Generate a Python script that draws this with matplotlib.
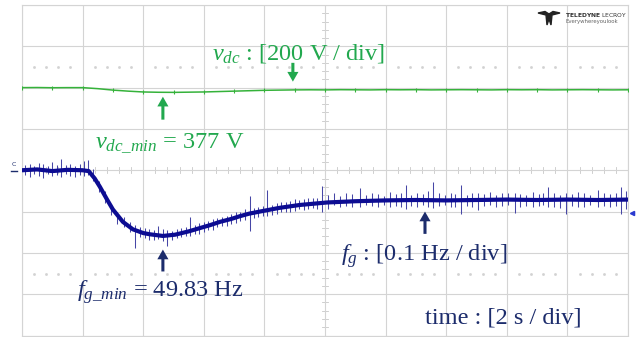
import matplotlib
matplotlib.use("Agg")
import matplotlib.pyplot as plt
from matplotlib.patches import Polygon
import numpy as np

plt.rcParams['font.family'] = ['Liberation Serif', 'DejaVu Serif']
plt.rcParams['mathtext.fontset'] = 'custom'
plt.rcParams['mathtext.rm'] = 'Liberation Serif'
plt.rcParams['mathtext.it'] = 'Liberation Serif:italic'

# --- data read off the scope capture ---
# DC link voltage, sampled every 0.5 s (V)
vdc_t = [0.0, 0.5, 1.0, 1.5, 2.0, 2.5, 3.0, 3.5, 4.0, 4.5, 5.0, 5.5, 6.0, 6.5,
         7.0, 7.5, 8.0, 8.5, 9.0, 9.5, 10.0, 10.5, 11.0, 11.5, 12.0, 12.5, 13.0,
         13.5, 14.0, 14.5, 15.0, 15.5, 16.0, 16.5, 17.0, 17.5, 18.0, 18.5, 19.0,
         19.5, 20.0]
vdc_v = [400, 400.5, 399.5, 400, 400, 395, 388, 383, 379, 377.5, 377, 378, 379,
         381, 383, 385, 387, 388, 389, 389.5, 389, 390, 389.5, 389, 390, 389.5,
         390, 389, 389.5, 390, 389.5, 389, 390, 389.5, 390, 389, 389.5, 390,
         389.5, 389, 389.5]

# grid frequency trace (Hz)
fg_t = [0, 0.5, 1.0, 1.5, 2.0, 2.2, 2.4, 2.57, 2.8, 3.0, 3.33, 3.66, 4.0, 4.22,
        4.65, 5.05, 5.5, 5.87, 6.2, 6.53, 6.9, 7.2, 7.5, 7.85, 8.5, 9.17, 10.07,
        11, 12, 13, 14, 15, 16, 17, 18, 19, 20]
fg_hz = [50.0, 50.002, 49.998, 50.001, 50.0, 49.998, 49.98, 49.96, 49.93, 49.905,
         49.875, 49.857, 49.848, 49.845, 49.841, 49.844, 49.852, 49.86, 49.867,
         49.875, 49.882, 49.889, 49.895, 49.90, 49.909, 49.916, 49.922, 49.925,
         49.927, 49.928, 49.927, 49.928, 49.929, 49.928, 49.929, 49.928, 49.929]

# noise spikes on the frequency trace: time, low, high
spike_t = [0.1, 0.25, 0.4, 0.55, 0.7, 0.85, 1.0, 1.15, 1.3, 1.45, 1.6, 1.75, 1.9, 2.05, 2.18,
           2.35, 2.55, 2.75, 2.95, 3.15, 3.35, 3.55, 3.73, 3.9, 4.05, 4.2, 4.35, 4.5, 4.65, 4.8, 4.95, 5.1,
           5.25, 5.4, 5.55, 5.7, 5.85, 6.0, 6.15, 6.3, 6.45, 6.6, 6.75, 6.9, 7.05, 7.2, 7.35, 7.52,
           7.65, 7.8, 7.95, 8.1, 8.25, 8.4, 8.55, 8.7, 8.85, 9.0, 9.15, 9.3, 9.45, 9.6, 9.75, 9.9,
           10.1, 10.3, 10.5, 10.7, 10.9, 11.15, 11.35, 11.55, 11.75, 11.95, 12.15, 12.35, 12.5,
           12.67, 12.85, 13.05, 13.25, 13.4, 13.56, 13.75, 13.95, 14.15, 14.3, 14.49, 14.7, 14.85,
           15.05, 15.25, 15.45, 15.65, 15.85, 16.05, 16.27, 16.45, 16.65, 16.85, 17.05, 17.2, 17.36,
           17.55, 17.75, 17.95, 18.15, 18.35, 18.55, 18.75, 19.0, 19.2, 19.4, 19.6, 19.77, 19.92]
spike_lo = [49.988, 49.984, 49.99, 49.986, 49.982, 49.99, 49.985, 49.988, 49.983, 49.99, 49.986, 49.984, 49.989, 49.985, 49.988,
            49.975, 49.948, 49.92, 49.892, 49.87, 49.862, 49.85, 49.812, 49.838, 49.835, 49.832, 49.83, 49.834, 49.828, 49.816, 49.832, 49.835,
            49.838, 49.84, 49.842, 49.845, 49.846, 49.85, 49.855, 49.856, 49.862, 49.864, 49.866, 49.87, 49.872, 49.876, 49.88, 49.852,
            49.884, 49.888, 49.889, 49.89, 49.892, 49.895, 49.898, 49.9, 49.898, 49.902, 49.905, 49.904, 49.906, 49.908, 49.907, 49.9,
            49.905, 49.915, 49.91, 49.914, 49.912, 49.91, 49.916, 49.913, 49.911, 49.915, 49.912, 49.914, 49.91,
            49.905, 49.914, 49.912, 49.915, 49.911, 49.908, 49.913, 49.915, 49.912, 49.91, 49.893, 49.914, 49.912,
            49.903, 49.914, 49.916, 49.911, 49.913, 49.915, 49.896, 49.912, 49.914, 49.91, 49.913, 49.915, 49.911,
            49.912, 49.909, 49.893, 49.914, 49.912, 49.91, 49.915, 49.912, 49.914, 49.911, 49.913, 49.893, 49.905]
spike_hi = [50.012, 50.016, 50.01, 50.018, 50.014, 50.011, 50.02, 50.013, 50.028, 50.012, 50.016, 50.011, 50.015, 50.022, 50.024,
            50.002, 49.975, 49.95, 49.918, 49.898, 49.888, 49.874, 49.868, 49.862, 49.86, 49.858, 49.856, 49.866, 49.858, 49.856, 49.854, 49.858,
            49.86, 49.862, 49.886, 49.868, 49.872, 49.874, 49.878, 49.882, 49.885, 49.888, 49.89, 49.894, 49.898, 49.9, 49.905, 49.937,
            49.908, 49.91, 49.914, 49.953, 49.917, 49.92, 49.922, 49.924, 49.926, 49.93, 49.928, 49.93, 49.933, 49.932, 49.934, 49.961,
            49.94, 49.944, 49.938, 49.946, 49.942, 49.956, 49.94, 49.945, 49.942, 49.938, 49.948, 49.942, 49.944,
            49.965, 49.94, 49.946, 49.942, 49.95, 49.972, 49.944, 49.94, 49.946, 49.942, 49.965, 49.94, 49.946,
            49.944, 49.942, 49.948, 49.94, 49.946, 49.944, 49.945, 49.942, 49.94, 49.948, 49.942, 49.946, 49.96,
            49.944, 49.94, 49.946, 49.942, 49.948, 49.944, 49.94, 49.953, 49.946, 49.942, 49.944, 49.96, 49.95]

GREEN_TXT = '#22a84e'
GREEN_TRACE = '#35b23a'
BLUE_TXT = '#1c2c6c'
BLUE_TRACE = '#0c0c92'
GRID = '#d4d4d4'
FS = 17.6

fig = plt.figure(figsize=(6.38, 3.37), dpi=100)
ax = fig.add_axes([22 / 638, 1.5 / 337, 606 / 638, 330.5 / 337])
# 0.1 Hz/div with 50 Hz on the centre line, 2 s/div
ax.set_xlim(0, 20)
ax.set_ylim(49.6, 50.4)
ax.set_xticks(np.arange(0, 21, 2))
ax.set_yticks(np.arange(49.6, 50.41, 0.1))
ax.tick_params(length=0, labelleft=False, labelbottom=False)
ax.grid(True, color=GRID, lw=0.8)
for s in ax.spines.values():
    s.set_color(GRID)
    s.set_linewidth(0.8)

# centre cross with minor ticks
for yy in np.arange(49.6, 50.41, 0.02):
    ax.plot([9.9, 10.1], [yy, yy], color='#c8c8c8', lw=0.6, zorder=1)
for xx in np.arange(0, 20.01, 0.4):
    ax.plot([xx, xx], [49.993, 50.007], color='#c8c8c8', lw=0.6, zorder=1)
# dotted cursor rows (skip the grid lines)
dots = [x for x in np.arange(0.4, 20, 0.4) if abs(x / 2 - round(x / 2)) > 0.05]
for yy in (50.25, 49.75):
    ax.plot(dots, [yy] * len(dots), ls='none', marker='s', ms=0.9,
            color='#d2d2d2', zorder=1)

# second scale for the DC link: 200 V/div, 0 V on the centre line
axv = ax.twinx()
axv.set_ylim(-800, 800)
axv.axis('off')

axv.plot(vdc_t, vdc_v, color=GREEN_TRACE, lw=1.1, marker='|', ms=3,
         mew=0.8, markevery=2, zorder=3)

ax.vlines(spike_t, spike_lo, spike_hi, color='#4646a6', lw=0.75, zorder=2)
ax.plot(fg_t, fg_hz, color=BLUE_TRACE, lw=3.0, zorder=3)
ax.plot([20.13], [49.897], marker='<', ms=3, color='#2a3ad0', clip_on=False)

arrow = dict(arrowstyle='simple,head_width=0.8,head_length=0.7,tail_width=0.22',
             mutation_scale=10, shrinkA=0, shrinkB=0, lw=0)

# labels
axv.text(6.27, 536, r'$v_{dc}$ : [200 V / div]', color=GREEN_TXT, fontsize=FS,
         va='baseline')
axv.annotate('', xy=(8.94, 429), xytext=(8.94, 520),
             arrowprops=dict(arrow, color=GREEN_TXT))
axv.annotate('', xy=(4.65, 356), xytext=(4.65, 245),
             arrowprops=dict(arrow, color=GREEN_TXT))
axv.text(2.41, 109, r'$v_{dc\_min}$ = 377 V', color=GREEN_TXT, fontsize=FS,
         va='baseline')

ax.annotate('', xy=(4.65, 49.808), xytext=(4.65, 49.755),
            arrowprops=dict(arrow, color=BLUE_TXT))
ax.text(1.82, 49.694, r'$f_{g\_min}$ = 49.83 Hz', color=BLUE_TXT, fontsize=FS,
        va='baseline')
ax.annotate('', xy=(13.3, 49.9), xytext=(13.3, 49.846),
            arrowprops=dict(arrow, color=BLUE_TXT))
ax.text(10.53, 49.781, r'$f_g$ : [0.1 Hz / div]', color=BLUE_TXT, fontsize=FS,
        va='baseline')
ax.text(13.3, 49.629, 'time : [2 s / div]', color=BLUE_TXT, fontsize=FS,
        va='baseline')

# channel marker on the left
fig.text(14 / 638, 1 - 167 / 337, 'C', fontsize=4.5, color=BLUE_TXT,
         family='DejaVu Sans', ha='center', va='bottom')
fig.lines.append(plt.Line2D([11 / 638, 17 / 638], [1 - 170.5 / 337] * 2,
                            color=BLUE_TXT, lw=1.0, transform=fig.transFigure))

# Teledyne LeCroy logo
pts = [(538, 13), (546, 15), (547, 25), (549, 19), (551, 25), (552, 15),
       (560, 13), (553, 11.5), (549, 14), (545, 11.5)]
fig.patches.append(Polygon([(x / 638, 1 - y / 337) for x, y in pts], closed=True,
                           color='#222222', transform=fig.transFigure))
fig.text(565 / 638, 1 - 17 / 337, r'$\mathbf{TELEDYNE}$ LECROY', fontsize=4.3,
         family='DejaVu Sans', color='#333333', va='baseline')
fig.text(565 / 638, 1 - 23.5 / 337, 'Everywhereyoulook', fontsize=3.9,
         family='DejaVu Sans', color='#666666', va='baseline')

fig.savefig('out.png', dpi=100)
